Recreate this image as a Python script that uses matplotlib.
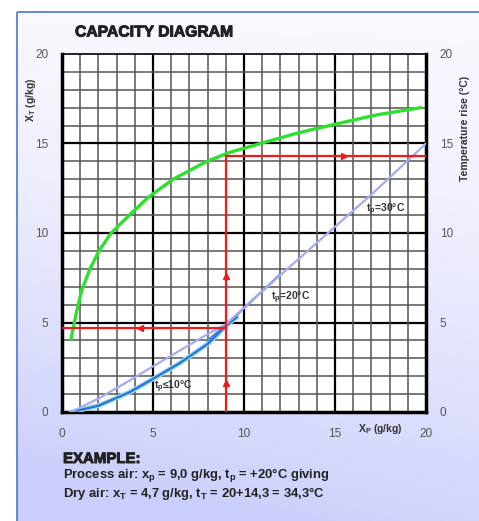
import numpy as np
import matplotlib.pyplot as plt
import matplotlib.patheffects as pe
from matplotlib.patches import Rectangle

plt.rcParams.update({
    'font.family': ['Liberation Sans', 'DejaVu Sans'],
    'mathtext.fontset': 'custom',
    'mathtext.rm': 'Liberation Sans:bold',
    'mathtext.it': 'Liberation Sans:bold',
    'mathtext.bf': 'Liberation Sans:bold',
})

# green capacity curve (X_T vs X_P)
green_x = [0.5, 0.8, 1.08, 1.54, 2.03, 2.7, 3.7, 4.75, 6.1, 7.95, 9.2, 10.9, 13.0, 15.1, 17.3, 19.7]
green_y = [4.1, 5.6, 6.8, 8.0, 9.0, 10.0, 11.0, 12.0, 13.0, 14.0, 14.5, 15.0, 15.6, 16.1, 16.6, 17.0]

# temperature rise curves
t30_x = [0.5, 2.0, 3.7, 5.0, 6.5, 8.0, 9.0, 11.0, 13.0, 15.0, 17.0, 20.0]
t30_y = [0.0, 0.75, 1.75, 2.55, 3.45, 4.35, 4.9, 6.75, 8.55, 10.35, 12.15, 15.0]
t20_x = [8.0, 9.0, 10.0, 11.0, 12.0]
t20_y = [4.0, 4.85, 5.8, 6.75, 7.7]
t10_x = [0.5, 2.0, 3.7, 5.0, 6.5, 8.0, 9.0, 9.6]
t10_y = [0.0, 0.35, 1.1, 1.85, 2.75, 3.8, 4.8, 5.3]

# worked example
xp, xt, dt = 9.0, 4.7, 14.3

ticks = [0, 5, 10, 15, 20]

fig = plt.figure(figsize=(4.79, 5.21), dpi=100)

# panel background with gradient
bg = fig.add_axes([0, 0, 1, 1], zorder=-5)
bg.set_xlim(0, 479)
bg.set_ylim(521, 0)
bg.axis('off')
yy, xx = np.mgrid[0:521, 0:479]
t = 0.85 * (yy / 521.0) ** 1.5 + 0.3 * (1 - xx / 479.0) * (yy / 521.0)
t = np.clip(t, 0, 1)
top = np.array([0.975, 0.975, 1.0])
bot = np.array([0.80, 0.81, 0.985])
img = top[None, None, :] * (1 - t[..., None]) + bot[None, None, :] * t[..., None]
bg.imshow(img, extent=[17, 479, 521, 12], aspect='auto', zorder=0)
bg.add_patch(Rectangle((17, 12), 470, 520, fill=False, ec='#4a76d0', lw=1.2, zorder=1))

ax = fig.add_axes([62 / 479, 1 - 412 / 521, 364 / 479, 358 / 521])
ax.set_facecolor('white')
ax.set_xlim(0, 20)
ax.set_ylim(0, 20)

for v in range(1, 20):
    major = v % 5 == 0
    c = 'black' if major else '#555555'
    w = 1.6 if major else 1.1
    ax.axvline(v, color=c, lw=w, zorder=1)
    ax.axhline(v, color=c, lw=w, zorder=1)

ax.plot(green_x, green_y, color='#2ee02e', lw=2.4, zorder=3)
ax.plot(t10_x, t10_y, color='#9fd3f5', lw=3.5, zorder=3, solid_capstyle='round')
ax.plot(t10_x, t10_y, color='#1f78d0', lw=1.6, zorder=3)
ax.plot(t20_x, t20_y, color='#4a7fe0', lw=1.6, zorder=3)
ax.plot(t30_x, t30_y, color='#a6aaf2', lw=1.6, zorder=4)

red = '#ee1c1c'
ax.plot([xp, xp], [0, dt], color=red, lw=1.6, zorder=5)
ax.plot([xp, 20], [dt, dt], color=red, lw=1.6, zorder=5)
ax.plot([0, xp], [xt, xt], color=red, lw=1.6, zorder=5)
ax.plot([xp, xp], [1.6, 7.6], ls='none', marker='^', ms=5, color=red, zorder=6)
ax.plot([15.5], [dt], ls='none', marker='>', ms=5, color=red, zorder=6)
ax.plot([4.3], [xt], ls='none', marker='<', ms=5, color=red, zorder=6)

lab = dict(fontsize=7.5, fontweight='bold', color='#333333', zorder=7)
ax.text(16.7, 11.3, 't$_p$=30°C', va='center', ha='left', **lab)
ax.text(11.5, 6.4, 't$_p$=20°C', va='center', ha='left', **lab)
ax.text(5.05, 1.4, 't$_p$≤10°C', va='center', ha='left', **lab)

ax.set_xticks(ticks)
ax.set_yticks(ticks)
ax.tick_params(left=False, right=False, bottom=False, top=False,
               labelleft=True, labelright=True, labelsize=8.5, labelcolor='#555555')
ax.tick_params(axis='y', which='both', pad=6.5)
ax.tick_params(axis='x', pad=8)
for s in ['left', 'right', 'bottom']:
    ax.spines[s].set_linewidth(2.5)
ax.spines['top'].set_linewidth(1.2)

fat = [pe.withStroke(linewidth=0.7, foreground='#222222')]
fig.text(75 / 479, 1 - 32 / 521, 'CAPACITY DIAGRAM', fontsize=11.3, fontweight='bold',
         va='center', ha='left', color='#222222', path_effects=fat)
fig.text(31 / 479, 1 - 100 / 521, 'X$_T$ (g/kg)', rotation=90, fontsize=7.5,
         fontweight='bold', va='center', ha='center', color='#333333')
fig.text(465 / 479, 1 - 128 / 521, 'Temperature rise (°C)', rotation=90, fontsize=7.5,
         fontweight='bold', va='center', ha='center', color='#333333')
fig.text(380 / 479, 1 - 429 / 521, 'X$_P$ (g/kg)', fontsize=7.5, fontweight='bold',
         va='center', ha='center', color='#333333')

fig.text(63 / 479, 1 - 459 / 521, 'EXAMPLE:', fontsize=10.8, fontweight='bold',
         va='center', ha='left', color='#222222', path_effects=fat)
fig.text(63 / 479, 1 - 476 / 521, 'Process air: x$_p$ = 9,0 g/kg, t$_p$ = +20°C giving',
         fontsize=9.4, fontweight='bold', va='center', ha='left', color='#222222')
fig.text(63 / 479, 1 - 493 / 521, 'Dry air: x$_T$ = 4,7 g/kg, t$_T$ = 20+14,3 = 34,3°C',
         fontsize=9.4, fontweight='bold', va='center', ha='left', color='#222222')

fig.savefig('out.png', dpi=100)
